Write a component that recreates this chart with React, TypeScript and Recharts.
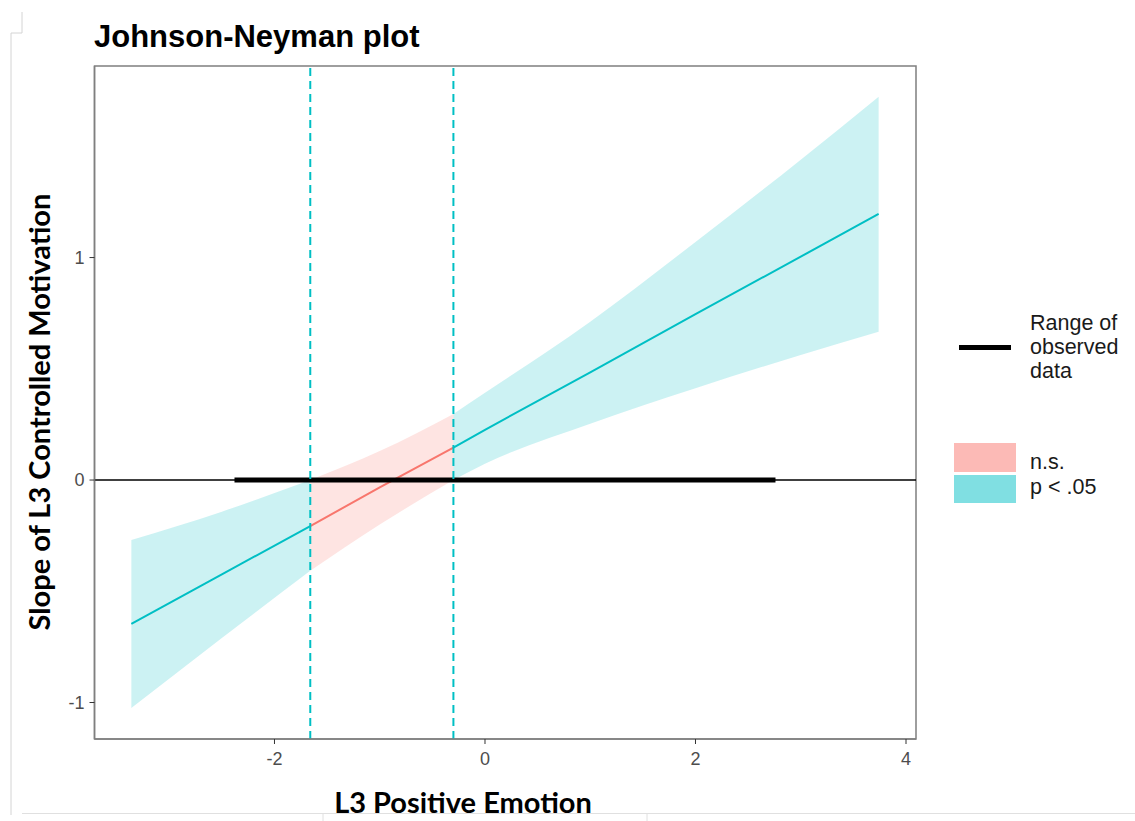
import React from 'react';
import {
  ComposedChart,
  Area,
  Line,
  XAxis,
  YAxis,
  ReferenceLine,
  ReferenceArea
} from 'recharts';

// values
const xValues = [-3.36, -2.5, -1.66, -1.0, -0.3, 0, 1, 2, 3, 3.74];
const slopeValues = [-0.647, -0.424, -0.207, -0.033, 0.146, 0.226, 0.484, 0.746, 1.004, 1.196];
const lowerValues = [-1.025, -0.71, -0.408, -0.2, 0.0, 0.073, 0.253, 0.413, 0.562, 0.667];
const upperValues = [-0.27, -0.142, 0.0, 0.13, 0.297, 0.392, 0.712, 1.07, 1.44, 1.723];
const jnBounds = [-1.66, -0.3];
const observedRange = [-2.38, 2.76];
const xTicks = [-2, 0, 2, 4];
const yTicks = [-1, 0, 1];
const xDomain = [-3.71, 4.095];
const yDomain = [-1.164, 1.861];

const TEAL = '#00BFC4';
const SALMON = '#F8766D';
const SANS = '"Liberation Sans", Arial, sans-serif';
const LABEL_FONT = 'Lato, "Open Sans", sans-serif';

// split band + line into significant / n.s. pieces
const data = xValues.map((x, i) => {
  const band = [lowerValues[i], upperValues[i]];
  const y = slopeValues[i];
  const left = x <= jnBounds[0];
  const mid = x >= jnBounds[0] && x <= jnBounds[1];
  const right = x >= jnBounds[1];
  return {
    x,
    sigL: left ? band : null,
    ns: mid ? band : null,
    sigR: right ? band : null,
    lineL: left ? y : null,
    lineNs: mid ? y : null,
    lineR: right ? y : null
  };
});

const tickStyle = { fill: '#4d4d4d', fontSize: 18, fontFamily: SANS };

const Legend = () => (
  <div style={{ position: 'absolute', left: 0, top: 0, fontFamily: SANS, color: '#1a1a1a', fontSize: 21.5 }}>
    <div style={{ position: 'absolute', left: 959, top: 344.5, width: 52, height: 5, background: '#000' }} />
    <div style={{ position: 'absolute', left: 1030, top: 311, lineHeight: '24px', whiteSpace: 'nowrap' }}>
      Range of<br />observed<br />data
    </div>
    <div style={{ position: 'absolute', left: 954, top: 443, width: 62, height: 29, background: '#FCBAB6' }} />
    <div style={{ position: 'absolute', left: 954, top: 475, width: 62, height: 28, background: '#80DFE2' }} />
    <div style={{ position: 'absolute', left: 1030, top: 450, lineHeight: '24px' }}>n.s.</div>
    <div style={{ position: 'absolute', left: 1030, top: 475, lineHeight: '24px', whiteSpace: 'nowrap' }}>p &lt; .05</div>
  </div>
);

const PageEdges = () => (
  <svg width={1135} height={821} style={{ position: 'absolute', left: 0, top: 0, pointerEvents: 'none' }}>
    <polyline points="22,12 22,33 11,33 11,815" fill="none" stroke="#d4d4d4" strokeWidth={1} />
    <line x1={22} y1={813.5} x2={1135} y2={813.5} stroke="#e0e0e0" strokeWidth={1} />
    <line x1={323} y1={813.5} x2={323} y2={821} stroke="#e0e0e0" strokeWidth={1} />
    <line x1={647} y1={813.5} x2={647} y2={821} stroke="#e0e0e0" strokeWidth={1} />
  </svg>
);

export default function App() {
  return (
    <div style={{ position: 'absolute', left: 0, top: 0, width: 1135, height: 821, background: '#fff' }}>
      <PageEdges />
      <div
        style={{
          position: 'absolute', left: 94, top: 20.5, fontFamily: SANS, fontWeight: 700,
          fontSize: 31, lineHeight: '31px', color: '#000', whiteSpace: 'nowrap'
        }}
      >
        Johnson-Neyman plot
      </div>
      <ComposedChart
        width={1135}
        height={821}
        data={data}
        margin={{ top: 66, right: 219, bottom: 52, left: 20 }}
      >
        <XAxis
          dataKey="x"
          type="number"
          domain={xDomain}
          ticks={xTicks}
          allowDataOverflow
          height={30}
          tick={tickStyle}
          tickSize={5}
          tickMargin={8}
          tickLine={{ stroke: '#333' }}
          axisLine={{ stroke: '#7f7f7f', strokeWidth: 1.5 }}
        />
        <YAxis
          type="number"
          domain={yDomain}
          ticks={yTicks}
          allowDataOverflow
          width={74.5}
          tick={tickStyle}
          tickSize={5}
          tickMargin={5}
          tickLine={{ stroke: '#333' }}
          axisLine={{ stroke: '#7f7f7f', strokeWidth: 1.5 }}
        />
        <Area type="monotone" dataKey="sigL" stroke="none" fill={TEAL} fillOpacity={0.2} activeDot={false} isAnimationActive={false} />
        <Area type="monotone" dataKey="ns" stroke="none" fill={SALMON} fillOpacity={0.2} activeDot={false} isAnimationActive={false} />
        <Area type="monotone" dataKey="sigR" stroke="none" fill={TEAL} fillOpacity={0.2} activeDot={false} isAnimationActive={false} />
        <Line type="linear" dataKey="lineL" stroke={TEAL} strokeWidth={2} dot={false} activeDot={false} isAnimationActive={false} />
        <Line type="linear" dataKey="lineNs" stroke={SALMON} strokeWidth={2} dot={false} activeDot={false} isAnimationActive={false} />
        <Line type="linear" dataKey="lineR" stroke={TEAL} strokeWidth={2} dot={false} activeDot={false} isAnimationActive={false} />
        <ReferenceLine y={0} stroke="#000" strokeWidth={1.5} />
        <ReferenceLine
          segment={[{ x: observedRange[0], y: 0 }, { x: observedRange[1], y: 0 }]}
          stroke="#000"
          strokeWidth={5}
        />
        {jnBounds.map(b => (
          <ReferenceLine key={b} x={b} stroke={TEAL} strokeWidth={2} strokeDasharray="8 5" />
        ))}
        <ReferenceArea
          x1={xDomain[0]}
          x2={xDomain[1]}
          y1={yDomain[0]}
          y2={yDomain[1]}
          fill="none"
          stroke="#7f7f7f"
          strokeWidth={1.5}
        />
      </ComposedChart>
      <div
        style={{
          position: 'absolute', left: 463, top: 801, transform: 'translate(-50%, -50%)',
          fontFamily: LABEL_FONT, fontWeight: 700, fontSize: 29, lineHeight: '29px', whiteSpace: 'nowrap'
        }}
      >
        L3 Positive Emotion
      </div>
      <div
        style={{
          position: 'absolute', left: 38, top: 412, transform: 'translate(-50%, -50%) rotate(-90deg)',
          fontFamily: LABEL_FONT, fontWeight: 700, fontSize: 29, lineHeight: '29px', whiteSpace: 'nowrap'
        }}
      >
        Slope of L3 Controlled Motivation
      </div>
      <Legend />
    </div>
  );
}
